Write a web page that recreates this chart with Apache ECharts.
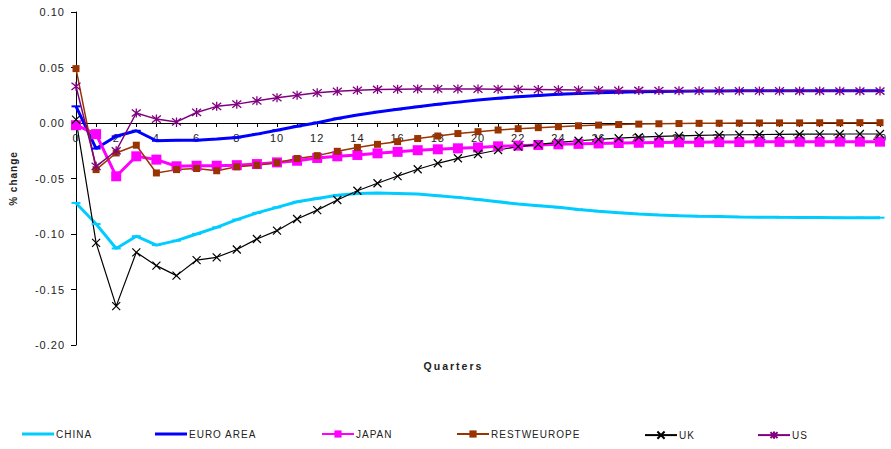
<!DOCTYPE html>
<html>
<head>
<meta charset="utf-8">
<script src="https://cdn.jsdelivr.net/npm/echarts@6/dist/echarts.min.js"></script>
<style>
  html, body { margin: 0; padding: 0; background: #fff; }
  #chart { width: 891px; height: 449px; }
  #chart text { letter-spacing: 1px; }
  #chart text[style*="10.5px"] { letter-spacing: 2px; }
</style>
</head>
<body>
<div id="chart"></div>
<script>
// Quarters after the shock
const quarters = ['0','1','2','3','4','5','6','7','8','9','10','11','12','13','14','15','16','17','18','19','20',
  '21','22','23','24','25','26','27','28','29','30','31','32','33','34','35','36','37','38','39','40'];

// Responses, % change
const china = [-0.072, -0.091, -0.113, -0.102, -0.110, -0.106, -0.100, -0.094, -0.087, -0.081, -0.076,
  -0.071, -0.068, -0.065, -0.0635, -0.063, -0.0635, -0.064, -0.0655, -0.067, -0.069,
  -0.071, -0.073, -0.0745, -0.076, -0.078, -0.0795, -0.0808, -0.082, -0.0828, -0.0835,
  -0.084, -0.0843, -0.0846, -0.0848, -0.085, -0.0851, -0.0852, -0.0853, -0.0853, -0.0853];
const euroArea = [0.015, -0.023, -0.012, -0.007, -0.016, -0.0155, -0.0155, -0.0145, -0.013, -0.010, -0.0065,
  -0.003, 0.0003, 0.004, 0.0072, 0.010, 0.0123, 0.0146, 0.0168, 0.0188, 0.0207,
  0.0222, 0.0237, 0.0248, 0.0258, 0.0266, 0.0272, 0.0277, 0.0281, 0.0284, 0.0286,
  0.0288, 0.0289, 0.029, 0.029, 0.029, 0.029, 0.029, 0.029, 0.029, 0.029];
const japan = [-0.002, -0.010, -0.048, -0.030, -0.033, -0.039, -0.0385, -0.0385, -0.038, -0.037, -0.0355,
  -0.034, -0.0315, -0.030, -0.0288, -0.0273, -0.026, -0.0245, -0.0237, -0.0228, -0.022,
  -0.021, -0.0204, -0.0198, -0.0192, -0.0188, -0.0184, -0.018, -0.0178, -0.0176, -0.0174,
  -0.0173, -0.0172, -0.0171, -0.017, -0.017, -0.0169, -0.0169, -0.0168, -0.0168, -0.0168];
const restWEurope = [0.049, -0.042, -0.027, -0.020, -0.045, -0.042, -0.041, -0.043, -0.0395, -0.038, -0.0357,
  -0.032, -0.0294, -0.0255, -0.022, -0.0192, -0.0168, -0.014, -0.0117, -0.0095, -0.0078,
  -0.0063, -0.0051, -0.0042, -0.0033, -0.0025, -0.0019, -0.0014, -0.001, -0.0007, -0.0005,
  -0.0003, -0.0002, -0.0001, 0.0, 0.0001, 0.0001, 0.0002, 0.0002, 0.0003, 0.0003];
const uk = [0.003, -0.108, -0.165, -0.1165, -0.1285, -0.1375, -0.1235, -0.121, -0.114, -0.1045, -0.097,
  -0.0865, -0.0785, -0.0694, -0.061, -0.0543, -0.0478, -0.0417, -0.0363, -0.0318, -0.0279,
  -0.0243, -0.0213, -0.0192, -0.0174, -0.016, -0.0147, -0.0137, -0.0128, -0.0121, -0.0116,
  -0.0112, -0.0108, -0.0106, -0.0104, -0.0102, -0.0101, -0.01, -0.0099, -0.0099, -0.0099];
const us = [0.033, -0.039, -0.025, 0.009, 0.0035, 0.001, 0.0095, 0.015, 0.017, 0.020, 0.0228,
  0.025, 0.0272, 0.0285, 0.0295, 0.0302, 0.0305, 0.0307, 0.0307, 0.0307, 0.0306,
  0.0305, 0.0303, 0.0301, 0.0299, 0.0297, 0.0296, 0.0294, 0.0293, 0.0292, 0.0291,
  0.029, 0.029, 0.0289, 0.0289, 0.0289, 0.0288, 0.0288, 0.0288, 0.0288, 0.0288];

const FONT = 'Arial, "Liberation Sans", Helvetica, sans-serif';
const TXT = '#222';
const Y_MIN = -0.2, Y_MAX = 0.1, Y_STEP = 0.05;

const crossSymbol = 'path://M0,0L10,10M0,10L10,0';
const starSymbol = 'path://M1,1L9,9M1,9L9,1M5,0L5,10';

function lineSeries(name, data, color, width, symbol, size, fill, stroke, strokeW) {
  return {
    name, type: 'line', data,
    symbol, symbolSize: size, showSymbol: true,
    lineStyle: { color, width },
    itemStyle: { color: fill, borderColor: stroke, borderWidth: strokeW },
    emphasis: { disabled: true },
    animation: false
  };
}

const series = [
  lineSeries('CHINA', china, '#00CCFF', 3, 'rect', [9, 2], '#00CCFF', '#00CCFF', 0),
  lineSeries('EURO AREA', euroArea, '#0000FF', 3, 'rect', [9, 2], '#0000FF', '#0000FF', 0),
  lineSeries('JAPAN', japan, '#FF00FF', 3, 'rect', 10, '#FF00FF', '#FF00FF', 0),
  lineSeries('RESTWEUROPE', restWEurope, '#993300', 1.5, 'rect', 7, '#993300', '#993300', 0),
  lineSeries('UK', uk, '#000000', 1.2, crossSymbol, 8, 'none', '#000000', 1.2),
  lineSeries('US', us, '#800080', 1.5, starSymbol, 9, 'none', '#800080', 1.3)
];

// one legend block per series so each entry sits at its own spot
const legendLeft = [22, 155, 321, 456, 644, 757];
const plainLine = 'path://M0,0H32V3H0Z';
const legends = series.map((s, i) => {
  const dashOnly = i < 2;
  return {
    data: dashOnly ? [{ name: s.name, icon: plainLine }] : [s.name],
    left: legendLeft[i], top: 429, padding: 0,
    itemWidth: 32, itemHeight: dashOnly ? 3 : 9, itemGap: 0,
    selectedMode: false,
    textStyle: { fontFamily: FONT, fontSize: 10, color: TXT, padding: [0, 0, 0, -3] }
  };
});

const chart = echarts.init(document.getElementById('chart'), null, { renderer: 'svg' });
chart.setOption({
  backgroundColor: '#fff',
  animation: false,
  grid: { left: 75, right: 11, top: 12, bottom: 104, containLabel: false },
  legend: legends,
  xAxis: {
    type: 'category', data: quarters, boundaryGap: false,
    axisLine: { onZero: false, lineStyle: { color: '#000', width: 1 } },
    axisTick: { show: true, interval: 0, length: 4, lineStyle: { color: '#000' } },
    axisLabel: { interval: 1, margin: 9, fontFamily: FONT, fontSize: 11, color: TXT },
    splitLine: { show: false }
  },
  yAxis: {
    type: 'value', min: Y_MIN, max: Y_MAX, interval: Y_STEP,
    name: '% change', nameLocation: 'middle', nameRotate: 90, nameGap: 58,
    nameTextStyle: { fontFamily: FONT, fontSize: 10, fontWeight: 'bold', color: TXT },
    axisLine: { show: true, lineStyle: { color: '#000', width: 1 } },
    axisTick: { show: true, length: 5, lineStyle: { color: '#000' } },
    axisLabel: { margin: 11, fontFamily: FONT, fontSize: 11, color: TXT,
      formatter: v => v.toFixed(2) },
    splitLine: { show: false }
  },
  graphic: [{
    type: 'text', left: 'center', top: 360,
    style: { text: 'Quarters', font: 'bold 10.5px ' + FONT, fill: TXT }
  }],
  series
});

// Put the category axis on the zero line of the value axis.
const yZero = chart.convertToPixel({ yAxisIndex: 0 }, 0);
const yBase = chart.convertToPixel({ yAxisIndex: 0 }, Y_MIN);
chart.setOption({ xAxis: { offset: yZero - yBase } });
</script>
</body>
</html>
